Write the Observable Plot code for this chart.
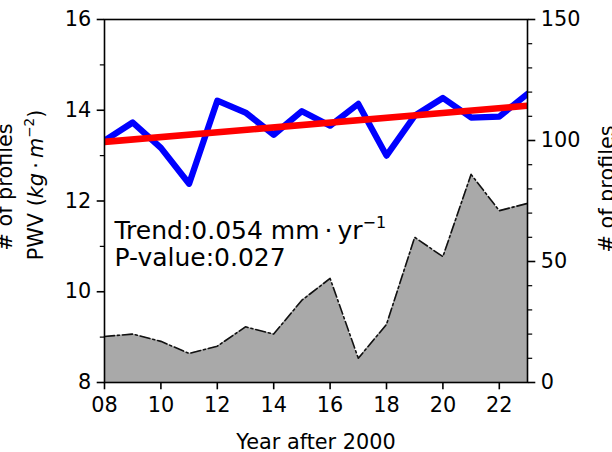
<!DOCTYPE html>
<html><head><meta charset="utf-8">
<script src="https://cdn.jsdelivr.net/npm/d3@7"></script>
<script src="https://cdn.jsdelivr.net/npm/@observablehq/plot@0.6"></script>
<style>body{margin:0;background:#fff} svg{display:block}</style>
</head><body><div id="chart"></div>
<script>
const years = [8, 9, 10, 11, 12, 13, 14, 15, 16, 17, 18, 19, 20, 21, 22, 23];
const pwv = [13.33, 13.73, 13.17, 12.38, 14.21, 13.95, 13.46, 13.98, 13.66, 14.14, 13.00, 13.88, 14.27, 13.84, 13.86, 14.36];
const profiles = [19, 20, 17, 12, 15, 23, 20, 34, 43, 10, 24, 60, 52, 86, 71, 74];
const pwvTicks = [8, 10, 12, 14, 16];
const pwvMinorTicks = [9, 11, 13, 15];
const profileTicks = [0, 50, 100, 150];
const profileMinorTicks = [10, 20, 30, 40, 60, 70, 80, 90, 110, 120, 130, 140];
const yearTicks = [8, 10, 12, 14, 16, 18, 20, 22];
const xLabel = "Year after 2000";
const yLabel = "PWV (kg · m−2)";
const y2Label = "# of profiles";
const trendText = "Trend:0.054 mm · yr−1";
const pText = "P-value:0.027";

const py = d3.scaleLinear([0, 150], [8, 16]);
const data = years.map((year, i) => ({year, pwv: pwv[i], profiles: profiles[i]}));

const plot = Plot.plot({
  width: 612, height: 452,
  marginLeft: 104, marginRight: 85, marginTop: 19, marginBottom: 70,
  style: {fontFamily: "'DejaVu Sans', sans-serif", fontSize: "20.8px", color: "black", background: "white"},
  x: {domain: [8, 23], label: null},
  y: {domain: [8, 16], label: null},
  marks: [
    Plot.areaY(data, {x: "year", y1: 8, y2: d => py(d.profiles), fill: "#a9a9a9"}),
    Plot.line(data, {x: "year", y: d => py(d.profiles), stroke: "#111", strokeWidth: 1.6, strokeDasharray: "10,3,2,3"}),
    Plot.line(data, {x: "year", y: "pwv", stroke: "blue", strokeWidth: 6.25, strokeLinejoin: "round", clip: true}),
    Plot.linearRegressionY(data, {x: "year", y: "pwv", stroke: "red", strokeWidth: 6.6, ci: 0, clip: true}),
    Plot.frame({stroke: "black", strokeWidth: 1.6}),
    Plot.axisY({anchor: "left", ticks: pwvTicks, tickSize: 7.3, tickPadding: 6, strokeWidth: 1.6, tickFormat: d => String(d), label: null}),
    Plot.axisY({anchor: "left", ticks: pwvMinorTicks, tickSize: 4.2, strokeWidth: 1.2, tickFormat: () => "", label: null}),
    Plot.axisY({anchor: "right", ticks: profileTicks.map(py), tickSize: 7.3, tickPadding: 6, strokeWidth: 1.6, tickFormat: d => String(Math.round(py.invert(d))), label: null}),
    Plot.axisY({anchor: "right", ticks: profileMinorTicks.map(py), tickSize: 4.2, strokeWidth: 1.2, tickFormat: () => "", label: null}),
    Plot.axisX({ticks: yearTicks, tickSize: 7.3, tickPadding: 7, strokeWidth: 1.6, tickFormat: d => String(d).padStart(2, "0"), label: null}),
    Plot.text([xLabel], {text: d => d, frameAnchor: "bottom", dy: 66, lineAnchor: "bottom", textAnchor: "middle", fontSize: 20.8}),
    Plot.text([yLabel], {text: d => d, frameAnchor: "left", dx: -62, dy: -16, rotate: -90, lineAnchor: "bottom", textAnchor: "middle", fontSize: 20.8}),
    Plot.text([y2Label], {text: d => d, frameAnchor: "left", dx: -93, dy: -14, rotate: -90, lineAnchor: "bottom", textAnchor: "middle", fontSize: 20.8}),
    Plot.text([y2Label], {text: d => d, frameAnchor: "right", dx: 86, dy: -12, rotate: -90, lineAnchor: "bottom", textAnchor: "middle", fontSize: 20.8}),
    Plot.text([trendText], {text: d => d, frameAnchor: "top-left", dx: 10, dy: 219, lineAnchor: "bottom", textAnchor: "start", fontSize: 25}),
    Plot.text([pText], {text: d => d, frameAnchor: "top-left", dx: 10, dy: 246.5, lineAnchor: "bottom", textAnchor: "start", fontSize: 25})
  ]
});

const NS = "http://www.w3.org/2000/svg";
function rich(node, parts) {
  node.textContent = "";
  for (const p of parts) {
    const ts = document.createElementNS(NS, "tspan");
    ts.textContent = p.t;
    if (p.italic) ts.setAttribute("font-style", "italic");
    if (p.size) ts.setAttribute("font-size", p.size);
    if (p.dy) ts.setAttribute("dy", p.dy);
    node.appendChild(ts);
  }
}
for (const t of plot.querySelectorAll("text")) {
  const s = t.textContent;
  if (s === yLabel) {
    rich(t, [{t: "PWV ("}, {t: "kg", italic: true}, {t: "\u2009·\u2009"}, {t: "m", italic: true},
             {t: "−2", size: "13.5px", dy: "-9"}, {t: ")", dy: "9"}]);
  } else if (s === trendText) {
    rich(t, [{t: "Trend:0.054 mm\u2009·\u2009yr"}, {t: "−1", size: "16px", dy: "-11"}]);
  }
}
document.getElementById("chart").appendChild(plot);
</script>
</body></html>
